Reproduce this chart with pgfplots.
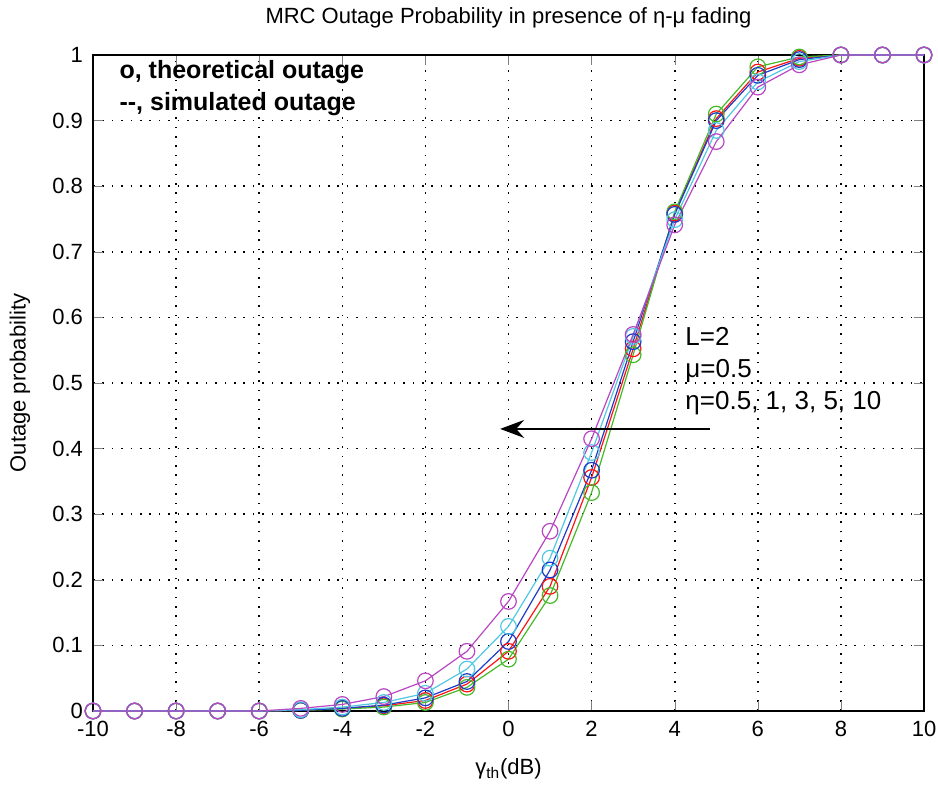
\documentclass[border=0pt]{standalone}
\usepackage{pgfplots}
\pgfplotsset{compat=1.18}
\usepackage{fontspec}
\setmainfont{Liberation Sans}
\usetikzlibrary{arrows.meta}
\definecolor{mred}{RGB}{255,20,20}
\definecolor{mgreen}{RGB}{70,185,40}
\definecolor{mblue}{RGB}{30,60,200}
\definecolor{mcyan}{RGB}{80,200,225}
\definecolor{mmag}{RGB}{185,70,195}
\begin{document}
\begin{tikzpicture}
\begin{axis}[
  scale only axis,
  width=415.5pt, height=328pt,
  xmin=-10, xmax=10, ymin=0, ymax=1,
  xtick={-10,-8,...,10},
  ytick={0,0.1,...,1.01},
  yticklabels={0,0.1,0.2,0.3,0.4,0.5,0.6,0.7,0.8,0.9,1},
  /pgf/number format/assume math mode=true,
  tick label style={font=\fontsize{11}{12}\selectfont},
  xticklabel style={yshift=-1.5pt},
  yticklabel style={xshift=-1.5pt},
  label style={font=\fontsize{11}{12}\selectfont},
  title style={font=\fontsize{11}{12}\selectfont, at={(axis description cs:0.5,1)}, anchor=base, yshift=10pt},
  title={MRC Outage Probability in presence of η-μ fading},
  xlabel={γ\textsubscript{th}(dB)},
  xlabel style={at={(axis description cs:0.5,0)}, anchor=center, yshift=-29pt},
  ylabel={Outage probability},
  ylabel style={at={([xshift=-36.5pt]axis description cs:0,0.5)}, anchor=center},
  tick align=inside,
  xtick pos=both, ytick pos=both,
  major tick length=5pt,
  grid=major,
  major grid style={black, line width=0.8pt, dash pattern=on 0.8pt off 3.9pt},
  axis line style={line width=0.6pt},
  every axis plot/.append style={line width=0.6pt, mark=o, mark size=3.9pt, mark options={solid}},
  clip=false,
]
\addplot[mred] coordinates {(-10,0) (-9,0) (-8,0) (-7,0) (-6,0) (-5,0.001) (-4,0.004) (-3,0.008) (-2,0.016) (-1,0.041) (0,0.091) (1,0.190) (2,0.356) (3,0.552) (4,0.759) (5,0.903) (6,0.974) (7,0.995) (8,1) (9,1) (10,1)};
\addplot[mgreen] coordinates {(-10,0) (-9,0) (-8,0) (-7,0) (-6,0) (-5,0.001) (-4,0.003) (-3,0.006) (-2,0.013) (-1,0.036) (0,0.079) (1,0.176) (2,0.333) (3,0.543) (4,0.761) (5,0.910) (6,0.982) (7,0.997) (8,1) (9,1) (10,1)};
\addplot[mblue] coordinates {(-10,0) (-9,0) (-8,0) (-7,0) (-6,0) (-5,0.001) (-4,0.004) (-3,0.009) (-2,0.020) (-1,0.045) (0,0.106) (1,0.215) (2,0.367) (3,0.563) (4,0.757) (5,0.900) (6,0.969) (7,0.993) (8,1) (9,1) (10,1)};
\addplot[mcyan] coordinates {(-10,0) (-9,0) (-8,0) (-7,0) (-6,0) (-5,0.002) (-4,0.006) (-3,0.013) (-2,0.027) (-1,0.064) (0,0.129) (1,0.233) (2,0.394) (3,0.571) (4,0.749) (5,0.885) (6,0.959) (7,0.990) (8,1) (9,1) (10,1)};
\addplot[mmag] coordinates {(-10,0) (-9,0) (-8,0) (-7,0) (-6,0) (-5,0.004) (-4,0.010) (-3,0.022) (-2,0.046) (-1,0.091) (0,0.167) (1,0.274) (2,0.415) (3,0.574) (4,0.741) (5,0.868) (6,0.951) (7,0.985) (8,1) (9,1) (10,1)};
\draw[-{Stealth[length=12pt,width=9pt,inset=4pt]}, line width=0.7pt] (axis cs:4.85,0.43) -- (axis cs:-0.2,0.43);
\node[anchor=base west, font=\fontsize{13}{16}\selectfont, align=left, inner sep=0pt] at (axis cs:4.25,0.460) {L=2\\μ=0.5\\η=0.5, 1, 3, 5, 10};
\node[anchor=base west, font=\bfseries\fontsize{12.5}{16}\selectfont, align=left, inner sep=0pt] at (axis cs:-9.37,0.915) {o, theoretical outage\\-{}-, simulated outage};
\end{axis}
\pgfresetboundingbox
\path[use as bounding box] ([shift={(-46.5pt,-39pt)}]current axis.south west) rectangle ([shift={(7pt,27.5pt)}]current axis.north east);
\end{tikzpicture}
\end{document}
